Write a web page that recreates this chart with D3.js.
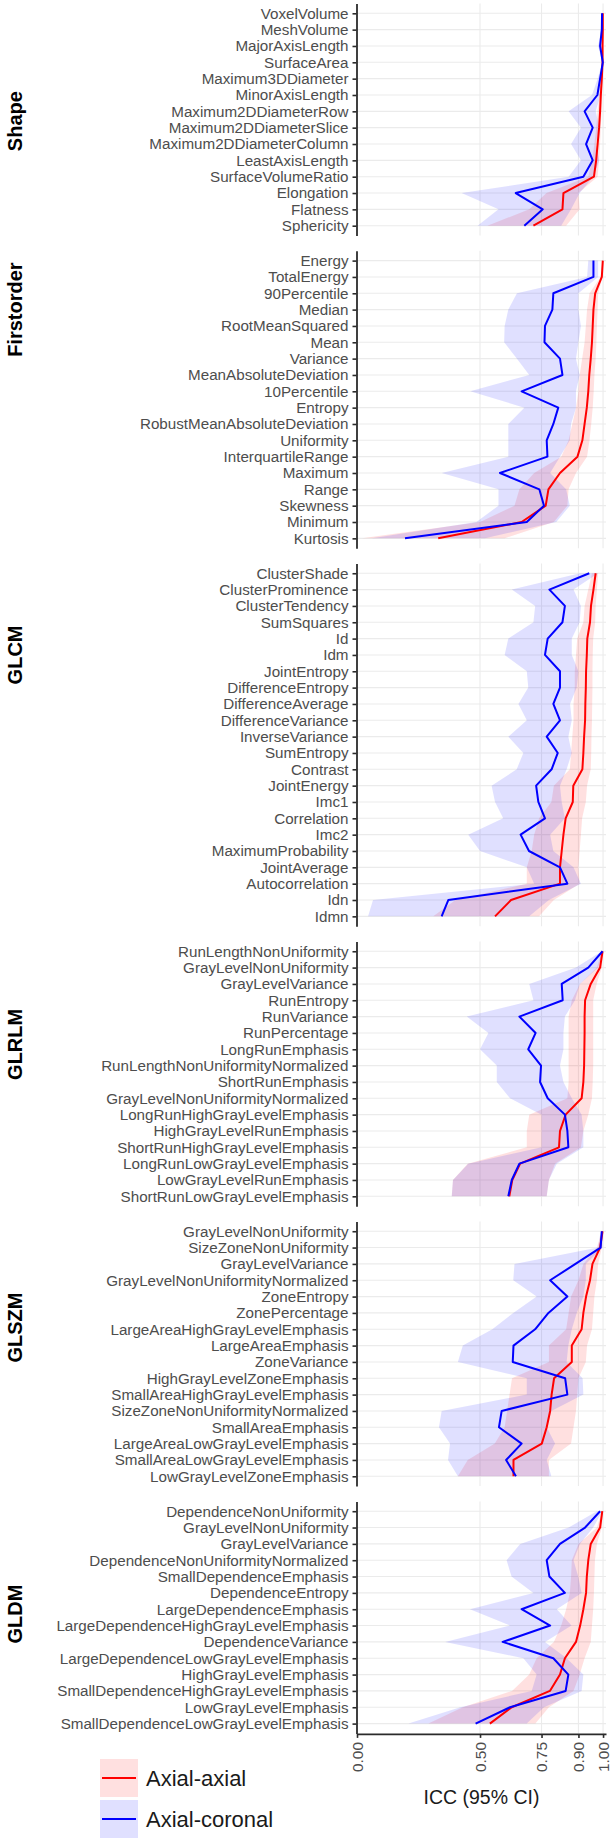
<!DOCTYPE html>
<html>
<head>
<meta charset="utf-8">
<script src="https://cdn.jsdelivr.net/npm/d3@7"></script>
<style>
  html, body { margin: 0; padding: 0; background: #ffffff; }
  svg { display: block; font-family: "Liberation Sans", Arial, Helvetica, sans-serif; }
</style>
</head>
<body>
<script>
// ---------------- DATA ----------------
const panelNames = ["Shape", "Firstorder", "GLCM", "GLRLM", "GLSZM", "GLDM"];
const seriesNames = ["Axial-axial", "Axial-coronal"];
const xTicks = [0, 0.5, 0.75, 0.9, 1.0];
const xTickLabels = ["0.00", "0.50", "0.75", "0.90", "1.00"];
const xTitle = "ICC (95% CI)";

// Shape
const shapeFeatures = ["VoxelVolume","MeshVolume","MajorAxisLength","SurfaceArea","Maximum3DDiameter","MinorAxisLength","Maximum2DDiameterRow","Maximum2DDiameterSlice","Maximum2DDiameterColumn","LeastAxisLength","SurfaceVolumeRatio","Elongation","Flatness","Sphericity"];
const shapeAxial    = [.999,.999,.998,.998,.995,.991,.988,.984,.978,.972,.963,.839,.835,.717];
const shapeAxialLo  = [.998,.997,.996,.996,.990,.985,.978,.972,.965,.955,.940,.770,.700,.530];
const shapeAxialHi  = [1.0,1.0,.999,.999,.997,.995,.994,.991,.988,.984,.978,.900,.905,.850];
const shapeCoronal   = [.996,.995,.988,.999,.988,.977,.925,.958,.931,.958,.920,.645,.755,.680];
const shapeCoronalLo = [.993,.992,.980,.997,.978,.955,.860,.910,.870,.910,.860,.425,.575,.490];
const shapeCoronalHi = [.998,.998,.994,1.0,.995,.990,.970,.985,.970,.985,.960,.905,.870,.830];

// Firstorder
const firstFeatures = ["Energy","TotalEnergy","90Percentile","Median","RootMeanSquared","Mean","Variance","MeanAbsoluteDeviation","10Percentile","Entropy","RobustMeanAbsoluteDeviation","Uniformity","InterquartileRange","Maximum","Range","Skewness","Minimum","Kurtosis"];
const firstAxial    = [.999,.995,.968,.961,.958,.955,.950,.944,.940,.934,.925,.916,.896,.825,.778,.767,.669,.330];
const firstAxialLo  = [.998,.990,.945,.935,.930,.925,.915,.905,.900,.890,.875,.860,.830,.720,.660,.640,.500,.020];
const firstAxialHi  = [1.0,.998,.980,.978,.975,.973,.970,.965,.962,.958,.952,.945,.935,.890,.860,.855,.800,.600];
const firstCoronal   = [.961,.961,.798,.794,.764,.762,.825,.835,.669,.818,.798,.771,.774,.581,.741,.760,.690,.195];
const firstCoronalLo = [.940,.935,.650,.615,.600,.598,.650,.700,.460,.680,.615,.615,.615,.344,.575,.575,.485,.060];
const firstCoronalHi = [.980,.980,.900,.900,.910,.900,.890,.905,.890,.890,.870,.865,.825,.785,.850,.865,.810,.520];

// GLCM
const glcmFeatures = ["ClusterShade","ClusterProminence","ClusterTendency","SumSquares","Id","Idm","JointEntropy","DifferenceEntropy","DifferenceAverage","DifferenceVariance","InverseVariance","SumEntropy","Contrast","JointEnergy","Imc1","Correlation","Imc2","MaximumProbability","JointAverage","Autocorrelation","Idn","Idmn"];
const glcmAxial    = [.970,.961,.951,.947,.936,.934,.931,.930,.928,.927,.923,.920,.916,.879,.877,.848,.839,.832,.825,.825,.626,.561];
const glcmAxialLo  = [.955,.940,.925,.920,.895,.890,.885,.885,.880,.880,.875,.870,.865,.800,.790,.740,.720,.710,.690,.690,.400,.310];
const glcmAxialHi  = [.980,.975,.970,.968,.960,.958,.957,.957,.956,.955,.953,.952,.950,.935,.930,.915,.910,.905,.900,.905,.800,.740];
const glcmCoronal   = [.944,.782,.845,.835,.775,.764,.825,.825,.798,.825,.771,.816,.791,.728,.737,.764,.665,.699,.825,.855,.371,.344];
const glcmCoronalLo = [.906,.629,.724,.717,.615,.600,.690,.696,.656,.690,.615,.676,.649,.547,.561,.594,.452,.500,.690,.720,.065,.045];
const glcmCoronalHi = [.980,.880,.910,.905,.873,.873,.900,.893,.866,.873,.859,.873,.852,.825,.832,.845,.785,.798,.880,.910,.780,.700];

// GLRLM
const glrlmFeatures = ["RunLengthNonUniformity","GrayLevelNonUniformity","GrayLevelVariance","RunEntropy","RunVariance","RunPercentage","LongRunEmphasis","RunLengthNonUniformityNormalized","ShortRunEmphasis","GrayLevelNonUniformityNormalized","LongRunHighGrayLevelEmphasis","HighGrayLevelRunEmphasis","ShortRunHighGrayLevelEmphasis","LongRunLowGrayLevelEmphasis","LowGrayLevelRunEmphasis","ShortRunLowGrayLevelEmphasis"];
const glrlmAxial    = [.998,.988,.950,.927,.925,.925,.924,.923,.920,.913,.848,.825,.821,.663,.631,.619];
const glrlmAxialLo  = [.995,.975,.906,.873,.860,.860,.860,.860,.860,.855,.700,.690,.690,.450,.390,.385];
const glrlmAxialHi  = [1.0,.995,.974,.960,.960,.960,.960,.960,.958,.955,.940,.920,.910,.805,.780,.771];
const glrlmCoronal   = [.998,.940,.832,.836,.660,.726,.696,.748,.744,.775,.845,.855,.859,.660,.629,.615];
const glrlmCoronalLo = [.995,.890,.700,.717,.446,.534,.500,.568,.568,.622,.750,.750,.750,.452,.390,.385];
const glrlmCoronalHi = [1.0,.980,.906,.886,.845,.839,.839,.825,.839,.873,.913,.920,.920,.812,.780,.771];

// GLSZM
const glszmFeatures = ["GrayLevelNonUniformity","SizeZoneNonUniformity","GrayLevelVariance","GrayLevelNonUniformityNormalized","ZoneEntropy","ZonePercentage","LargeAreaHighGrayLevelEmphasis","LargeAreaEmphasis","ZoneVariance","HighGrayLevelZoneEmphasis","SmallAreaHighGrayLevelEmphasis","SizeZoneNonUniformityNormalized","SmallAreaEmphasis","LargeAreaLowGrayLevelEmphasis","SmallAreaLowGrayLevelEmphasis","LowGrayLevelZoneEmphasis"];
const glszmAxial    = [.998,.988,.957,.947,.931,.920,.913,.873,.873,.801,.791,.785,.771,.751,.636,.636];
const glszmAxialLo  = [.995,.975,.920,.900,.870,.860,.850,.780,.780,.630,.620,.610,.600,.560,.450,.410];
const glszmAxialHi  = [1.0,.995,.980,.975,.965,.960,.955,.935,.930,.900,.895,.890,.880,.870,.780,.780];
const glszmCoronal   = [.995,.990,.888,.785,.855,.778,.724,.636,.633,.846,.855,.588,.577,.669,.606,.646];
const glszmCoronalLo = [.990,.980,.640,.635,.730,.635,.550,.430,.410,.690,.690,.344,.333,.378,.370,.410];
const glszmCoronalHi = [1.0,.998,.930,.930,.920,.893,.873,.859,.852,.917,.920,.790,.771,.805,.771,.790];

// GLDM
const gldmFeatures = ["DependenceNonUniformity","GrayLevelNonUniformity","GrayLevelVariance","DependenceNonUniformityNormalized","SmallDependenceEmphasis","DependenceEntropy","LargeDependenceEmphasis","LargeDependenceHighGrayLevelEmphasis","DependenceVariance","LargeDependenceLowGrayLevelEmphasis","HighGrayLevelEmphasis","SmallDependenceHighGrayLevelEmphasis","LowGrayLevelEmphasis","SmallDependenceLowGrayLevelEmphasis"];
const gldmAxial    = [.997,.988,.950,.940,.934,.931,.920,.907,.890,.845,.825,.784,.629,.540];
const gldmAxialLo  = [.995,.975,.900,.873,.870,.865,.850,.830,.800,.730,.700,.630,.430,.290];
const gldmAxialHi  = [1.0,.995,.975,.967,.965,.963,.960,.955,.950,.925,.905,.880,.780,.725];
const gldmCoronal   = [.988,.927,.825,.771,.782,.845,.669,.785,.592,.798,.859,.848,.622,.482];
const gldmCoronalLo = [.975,.860,.663,.608,.628,.717,.459,.622,.358,.676,.730,.710,.420,.209];
const gldmCoronalHi = [.997,.960,.906,.880,.899,.913,.812,.872,.764,.852,.920,.913,.760,.690];

// ---------------- BUILD ----------------
const panelData = [
  [shapeFeatures, shapeAxial, shapeAxialLo, shapeAxialHi, shapeCoronal, shapeCoronalLo, shapeCoronalHi],
  [firstFeatures, firstAxial, firstAxialLo, firstAxialHi, firstCoronal, firstCoronalLo, firstCoronalHi],
  [glcmFeatures, glcmAxial, glcmAxialLo, glcmAxialHi, glcmCoronal, glcmCoronalLo, glcmCoronalHi],
  [glrlmFeatures, glrlmAxial, glrlmAxialLo, glrlmAxialHi, glrlmCoronal, glrlmCoronalLo, glrlmCoronalHi],
  [glszmFeatures, glszmAxial, glszmAxialLo, glszmAxialHi, glszmCoronal, glszmCoronalLo, glszmCoronalHi],
  [gldmFeatures, gldmAxial, gldmAxialLo, gldmAxialHi, gldmCoronal, gldmCoronalLo, gldmCoronalHi]
].map((p, i) => ({
  name: panelNames[i],
  features: p[0],
  series: [
    p[0].map((f, j) => ({ f, est: p[1][j], lo: p[2][j], hi: p[3][j] })),
    p[0].map((f, j) => ({ f, est: p[4][j], lo: p[5][j], hi: p[6][j] }))
  ]
}));

// layout: vertical centre of each facet label, as a row position (index) in its panel
const stripRowCentre = [6.6, 3.0, 5.0, 5.7, 5.9, 6.3];

const W = 614, H = 1841;
const lineColors = ["#ff0000", "#0000ff"];
const fillColors = ["rgba(255,0,0,0.12)", "rgba(0,0,255,0.12)"];
const gridColor = "#ebebeb";
const textGrey = "#4d4d4d";

const plotLeft = 357, plotRight = 606;
const plotTop = 3.5, plotBottom = 1733.4, gap = 15.3;
const totalUnits = d3.sum(panelData, d => d.features.length + 0.2);
const unit = (plotBottom - plotTop - gap * (panelData.length - 1)) / totalUnits;

const x = d3.scaleLinear().domain([0, 1.012]).range([plotLeft, plotRight]);

const svg = d3.select("body").append("svg")
  .attr("width", W).attr("height", H)
  .attr("viewBox", `0 0 ${W} ${H}`);

let cursor = plotTop;
panelData.forEach((p, pi) => {
  const h = (p.features.length + 0.2) * unit;
  const y0 = cursor, y1 = cursor + h;
  cursor = y1 + gap;
  const y = d3.scalePoint().domain(p.features).range([y0, y1]).padding(0.6);
  const g = svg.append("g");

  // grid
  g.append("g").selectAll("line").data(p.features).join("line")
    .attr("x1", plotLeft).attr("x2", plotRight)
    .attr("y1", d => y(d)).attr("y2", d => y(d))
    .attr("stroke", gridColor).attr("stroke-width", 1.1);
  g.append("g").selectAll("line").data(xTicks.slice(1)).join("line")
    .attr("x1", d => x(d)).attr("x2", d => x(d))
    .attr("y1", y0).attr("y2", y1)
    .attr("stroke", gridColor).attr("stroke-width", 1.1);

  // ribbons
  p.series.forEach((s, si) => {
    const area = d3.area().x0(d => x(d.lo)).x1(d => x(d.hi)).y(d => y(d.f));
    g.append("path").datum(s).attr("d", area)
      .attr("fill", fillColors[si]).attr("stroke", "none");
  });
  // lines
  p.series.forEach((s, si) => {
    const line = d3.line().x(d => x(d.est)).y(d => y(d.f));
    g.append("path").datum(s).attr("d", line)
      .attr("fill", "none").attr("stroke", lineColors[si])
      .attr("stroke-width", 2).attr("stroke-linejoin", "round");
  });

  // y axis
  const ya = g.append("g").attr("transform", `translate(${plotLeft - 0.5},0)`)
    .call(d3.axisLeft(y).tickSize(4).tickSizeOuter(0).tickPadding(4));
  ya.select(".domain").attr("stroke", "#2b2b2b").attr("stroke-width", 1.8);
  ya.selectAll(".tick line").attr("stroke", "#2b2b2b").attr("stroke-width", 1.6);
  ya.selectAll(".tick text").attr("fill", textGrey).attr("font-size", "15.2px")
    .attr("font-family", "'Liberation Sans', Arial, sans-serif");

  // strip label
  const firstRow = y(p.features[0]);
  const stripY = firstRow + stripRowCentre[pi] * y.step();
  svg.append("text")
    .attr("transform", `translate(15,${stripY}) rotate(-90)`)
    .attr("text-anchor", "middle").attr("dominant-baseline", "central")
    .attr("font-weight", "bold").attr("font-size", "20px").attr("fill", "#000")
    .text(p.name);

  // bottom axis on last panel
  if (pi === panelData.length - 1) {
    const xa = svg.append("g").attr("transform", `translate(0,${y1 + 0.5})`)
      .call(d3.axisBottom(x).tickValues(xTicks)
        .tickFormat((d, i) => xTickLabels[i]).tickSize(4).tickSizeOuter(0));
    xa.select(".domain").attr("stroke", "#2b2b2b").attr("stroke-width", 1.8);
    xa.selectAll(".tick line").attr("stroke", "#2b2b2b").attr("stroke-width", 1.6);
    xa.selectAll(".tick text")
      .attr("fill", textGrey).attr("font-size", "15.5px")
      .attr("font-family", "'Liberation Sans', Arial, sans-serif")
      .attr("transform", "rotate(-90)")
      .attr("text-anchor", "end").attr("x", -8).attr("y", 0).attr("dy", "0.35em");

    svg.append("text")
      .attr("x", (plotLeft + plotRight) / 2).attr("y", 1804)
      .attr("text-anchor", "middle").attr("font-size", "19.5px").attr("fill", "#1a1a1a")
      .text(xTitle);
  }
});

// legend
const legend = svg.append("g");
seriesNames.forEach((name, i) => {
  const ky = 1759 + i * 41;
  legend.append("rect").attr("x", 100).attr("y", ky).attr("width", 38).attr("height", 38)
    .attr("fill", fillColors[i]);
  legend.append("line").attr("x1", 102).attr("x2", 136)
    .attr("y1", ky + 19).attr("y2", ky + 19)
    .attr("stroke", lineColors[i]).attr("stroke-width", 2);
  legend.append("text").attr("x", 146).attr("y", ky + 19).attr("dy", "0.35em")
    .attr("font-size", "22px").attr("fill", "#1a1a1a").text(name);
});
</script>
</body>
</html>
